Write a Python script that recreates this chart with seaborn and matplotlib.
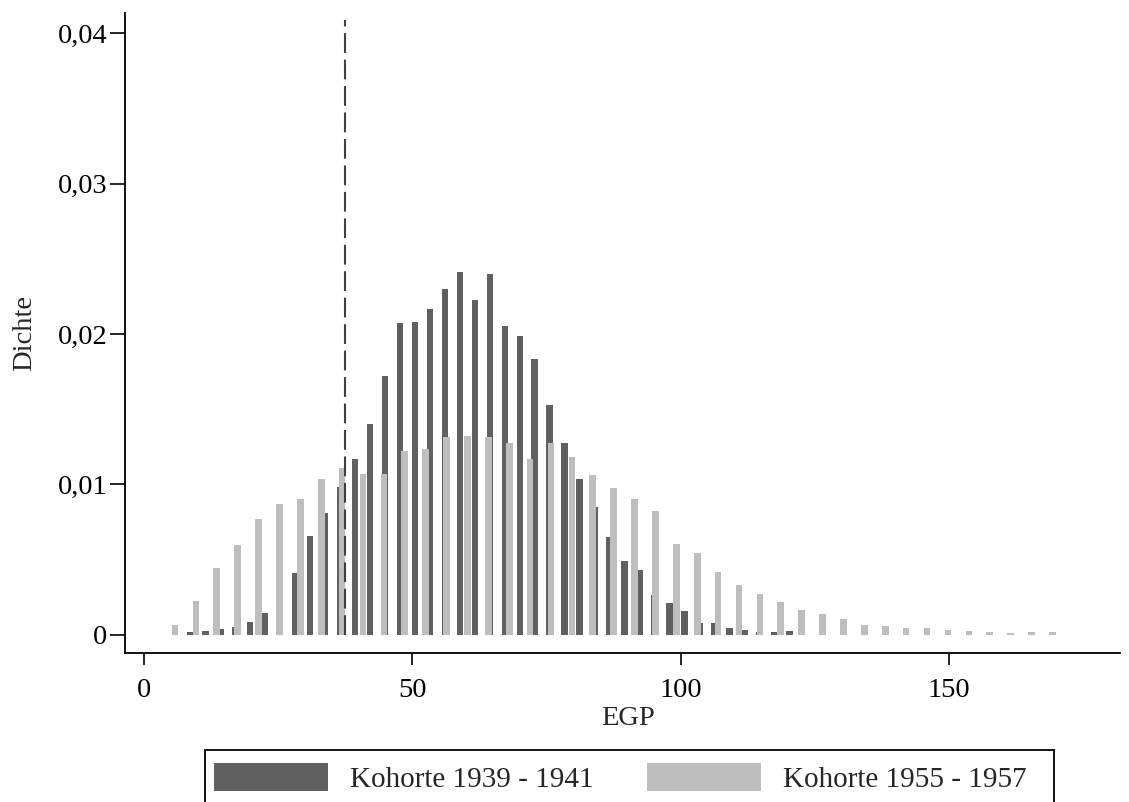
import matplotlib
matplotlib.use("Agg")
import matplotlib.pyplot as plt
from matplotlib.patches import Patch, Rectangle
import seaborn as sns

# ---- data ----
dark_label = "Kohorte 1939 - 1941"
light_label = "Kohorte 1955 - 1957"

dark_egp = [8.66, 11.45, 14.24, 17.03, 19.82, 22.61, 25.40, 28.19, 30.98, 33.77,
            36.56, 39.35, 42.14, 44.93, 47.72, 50.51, 53.30, 56.09, 58.88, 61.67,
            64.46, 67.25, 70.04, 72.83, 75.62, 78.41, 81.20, 83.99, 86.78, 89.57,
            92.36, 95.15, 97.94, 100.73, 103.52, 106.31, 109.10, 111.89, 114.68,
            117.47, 120.26]
dark_density = [0.00019, 0.00023, 0.00035, 0.00050, 0.00083, 0.00145, 0.00301,
                0.00409, 0.00656, 0.00807, 0.00984, 0.01166, 0.01400, 0.01720,
                0.02075, 0.02082, 0.02164, 0.02300, 0.02415, 0.02226, 0.02397,
                0.02051, 0.01985, 0.01834, 0.01525, 0.01275, 0.01037, 0.00849,
                0.00651, 0.00487, 0.00430, 0.00263, 0.00210, 0.00157, 0.00074,
                0.00074, 0.00043, 0.00028, 0.00020, 0.00019, 0.00021]

light_egp = [5.83, 9.72, 13.61, 17.50, 21.39, 25.28, 29.17, 33.06, 36.95, 40.84,
             44.73, 48.62, 52.51, 56.40, 60.29, 64.18, 68.07, 71.96, 75.85, 79.74,
             83.63, 87.52, 91.41, 95.30, 99.19, 103.08, 106.97, 110.86, 114.75,
             118.64, 122.53, 126.42, 130.31, 134.20, 138.09, 141.98, 145.87,
             149.76, 153.65, 157.54, 161.43, 165.32, 169.21]
light_density = [0.00063, 0.00223, 0.00445, 0.00596, 0.00769, 0.00866, 0.00900,
                 0.01033, 0.01108, 0.01068, 0.01068, 0.01219, 0.01235, 0.01314,
                 0.01321, 0.01312, 0.01277, 0.01166, 0.01277, 0.01181, 0.01062,
                 0.00977, 0.00900, 0.00822, 0.00602, 0.00542, 0.00414, 0.00329,
                 0.00267, 0.00214, 0.00163, 0.00134, 0.00105, 0.00065, 0.00057,
                 0.00043, 0.00043, 0.00030, 0.00025, 0.00019, 0.00012, 0.00014,
                 0.00014]

cutoff_egp = 37.5
cutoff_top = 0.0409

x_ticks = [0, 50, 100, 150]
y_ticks = [0, 0.01, 0.02, 0.03, 0.04]
y_ticklabels = ["0", "0,01", "0,02", "0,03", "0,04"]

# ---- style ----
DARK = "#606060"
LIGHT = "#bebebe"
W, H = 1129, 802

sns.set_style("ticks")
plt.rcParams["font.family"] = ["Liberation Serif", "DejaVu Serif"]

fig = plt.figure(figsize=(W / 100, H / 100), dpi=100)
ax = fig.add_axes([124.7 / W, 1 - 653 / H, (1120 - 124.7) / W, (653 - 13) / H])

sns.barplot(x=dark_egp, y=dark_density, native_scale=True, width=1.24 / 2.79,
            color=DARK, saturation=1, errorbar=None, linewidth=0, ax=ax)
sns.barplot(x=light_egp, y=light_density, native_scale=True, width=1.24 / 3.89,
            color=LIGHT, saturation=1, errorbar=None, linewidth=0, ax=ax)

ax.vlines(cutoff_egp, 0, cutoff_top, colors="#404040", linestyles=(0, (9.5, 3.2)),
          linewidth=1.5, zorder=5)

ax.set_xlim(-3.54, 181.8)
ax.set_ylim(-0.00123, 0.04136)
ax.set_xticks(x_ticks)
ax.set_xticklabels([str(t) for t in x_ticks])
ax.set_yticks(y_ticks)
ax.set_yticklabels(y_ticklabels)

for s in ["top", "right"]:
    ax.spines[s].set_visible(False)
for s in ["left", "bottom"]:
    ax.spines[s].set_linewidth(1.3)
    ax.spines[s].set_color("black")

ax.tick_params(axis="both", direction="out", width=1.2, colors="black",
               labelsize=20.5)
ax.tick_params(axis="y", length=11, pad=1.5)
ax.tick_params(axis="x", length=8.5, pad=9.5)

ax.set_xlabel("EGP", fontsize=20.5, labelpad=2)
ax.xaxis.label.set_x((628.5 - 124.7) / (1120 - 124.7))
ax.set_ylabel("Dichte", fontsize=20.5, labelpad=14.5)

# legend: frame drawn separately (reference box has extra right padding)
handles = [Patch(facecolor=DARK, edgecolor="none"), Patch(facecolor=LIGHT, edgecolor="none")]
leg = fig.legend(handles=handles, labels=[dark_label, light_label], ncol=2,
                 loc="center left", bbox_to_anchor=(214 / W, 1 - 778 / H),
                 frameon=False, fontsize=21,
                 handlelength=3.91, handleheight=1.1, handletextpad=0.75,
                 columnspacing=1.82, borderpad=0, borderaxespad=0)
fig.add_artist(Rectangle((205 / W, -3 / H), (1054 - 205) / W, (802 - 750 + 3) / H,
                         transform=fig.transFigure, fill=False, edgecolor="black",
                         linewidth=1.3, clip_on=False))

fig.savefig("out.png", dpi=100)
